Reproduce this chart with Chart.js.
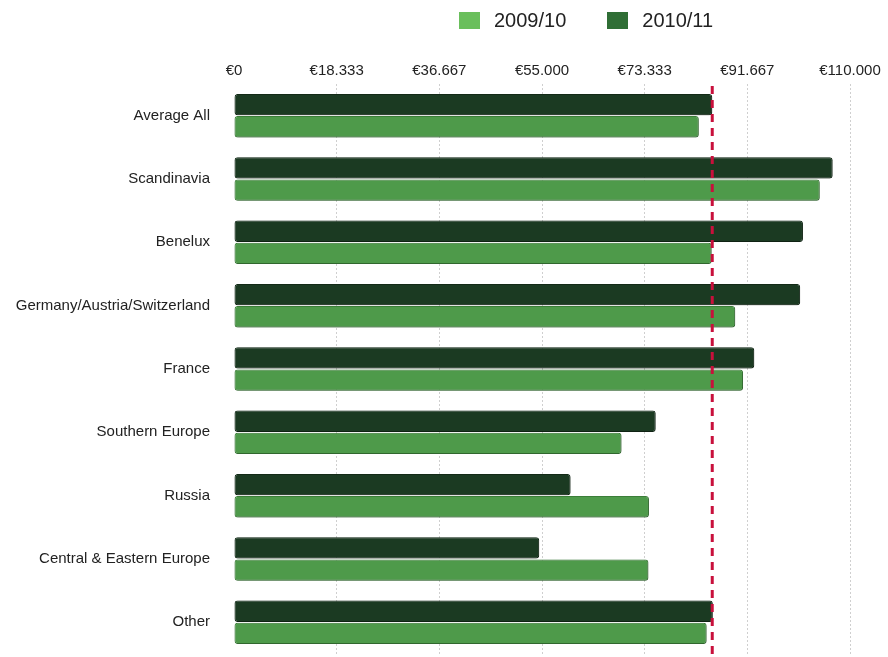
<!DOCTYPE html>
<html>
<head>
<meta charset="utf-8">
<script src="https://cdn.jsdelivr.net/npm/chart.js@4.4.1/dist/chart.umd.min.js"></script>
<style>
  html, body { margin: 0; padding: 0; background: #fff; }
  #wrap { position: relative; width: 888px; height: 657px; overflow: hidden; }
  #legend { position: absolute; top: 9px; left: 459px; display: flex; font-family: "Liberation Sans", Arial, sans-serif; font-size: 20px; color: #222; }
  #legend .item { display: flex; align-items: center; margin-right: 41px; }
  #legend .box { width: 21px; height: 17px; margin-right: 14px; }
</style>
</head>
<body>
<div id="wrap">
  <div id="legend"></div>
  <canvas id="salesChart" width="888" height="679"></canvas>
</div>
<script>
const regions = ['Average All', 'Scandinavia', 'Benelux', 'Germany/Austria/Switzerland', 'France',
                 'Southern Europe', 'Russia', 'Central & Eastern Europe', 'Other'];
const values2009 = [83000, 104600, 85300, 89500, 90900, 69200, 74100, 74000, 84400];
const values2010 = [85400, 106900, 101600, 101100, 92900, 75300, 60100, 54500, 85500];
const tickValues = [0, 18333.333, 36666.667, 55000, 73333.333, 91666.667, 110000];
const averageLine = 85400;

const legendItems = [
    { label: '2009/10', color: '#6abf5c' },
    { label: '2010/11', color: '#2f6e35' }
];

const labelFont = 'Arial, "Liberation Sans", Helvetica, sans-serif';

function buildLegend() {
    const el = document.getElementById('legend');
    legendItems.forEach(item => {
        const div = document.createElement('div');
        div.className = 'item';
        div.innerHTML = `<span class="box" style="background:${item.color}"></span><span>${item.label}</span>`;
        el.appendChild(div);
    });
}

// soft shadow under the bars
const barShadow = {
    id: 'barShadow',
    beforeDatasetsDraw(chart) {
        const ctx = chart.ctx;
        ctx.save();
        ctx.shadowColor = 'rgba(0,0,0,0.35)';
        ctx.shadowBlur = 3;
        ctx.shadowOffsetY = 1;
        ctx.shadowOffsetX = 1;
    },
    afterDatasetsDraw(chart) {
        chart.ctx.restore();
    }
};

// dashed red marker for the overall average
const averageMarker = {
    id: 'averageMarker',
    afterDatasetsDraw(chart) {
        const ctx = chart.ctx;
        const x = chart.scales.x.getPixelForValue(averageLine);
        ctx.save();
        ctx.strokeStyle = '#c8103c';
        ctx.lineWidth = 3;
        ctx.setLineDash([8, 6]);
        ctx.beginPath();
        ctx.moveTo(x, chart.chartArea.top + 2);
        ctx.lineTo(x, chart.height);
        ctx.stroke();
        ctx.restore();
    }
};

function drawChart() {
    new Chart(document.getElementById('salesChart'), {
        type: 'bar',
        data: {
            labels: regions,
            datasets: [
                {
                    label: '2010/11',
                    data: values2010,
                    backgroundColor: '#1b3a22',
                    borderColor: '#142d19',
                    borderWidth: 1,
                    borderRadius: 3,
                    borderSkipped: false,
                    barPercentage: 0.96,
                    categoryPercentage: 0.7
                },
                {
                    label: '2009/10',
                    data: values2009,
                    backgroundColor: '#4e9a4a',
                    borderColor: '#3f853c',
                    borderWidth: 1,
                    borderRadius: 3,
                    borderSkipped: false,
                    barPercentage: 0.96,
                    categoryPercentage: 0.7
                }
            ]
        },
        options: {
            indexAxis: 'y',
            responsive: false,
            animation: false,
            layout: { padding: { top: 58, right: 38, bottom: 2, left: 4 } },
            plugins: {
                legend: { display: false },
                tooltip: { enabled: false }
            },
            scales: {
                x: {
                    position: 'top',
                    min: 0,
                    max: 110000,
                    afterBuildTicks: scale => {
                        scale.ticks = tickValues.map(v => ({ value: v }));
                    },
                    border: { display: false, dash: [2, 2] },
                    grid: {
                        color: ctx => ctx.tick && ctx.tick.value === 0 ? 'rgba(0,0,0,0)' : '#cfcfcf',
                        lineWidth: 1,
                        drawTicks: false
                    },
                    ticks: {
                        padding: 4,
                        color: '#222',
                        font: { family: labelFont, size: 15 },
                        callback: v => '€' + Math.round(v).toLocaleString('de-DE')
                    }
                },
                y: {
                    border: { display: false },
                    grid: { display: false },
                    afterFit: scale => { scale.width = 230; },
                    ticks: {
                        padding: 16,
                        color: '#222',
                        font: { family: labelFont, size: 15 }
                    }
                }
            }
        },
        plugins: [barShadow, averageMarker]
    });
}

window.onload = function () {
    buildLegend();
    drawChart();
};
</script>
</body>
</html>
